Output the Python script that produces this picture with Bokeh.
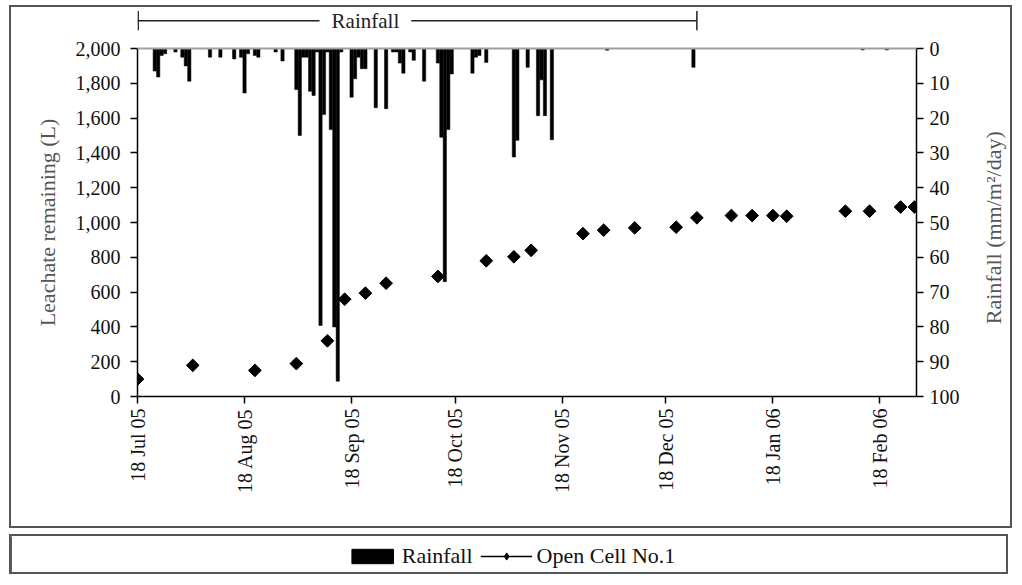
import math
import pandas as pd
from bokeh.plotting import figure
from bokeh.models import (Range1d, LinearAxis, FixedTicker, NumeralTickFormatter,
                          DatetimeTickFormatter, Span, Legend, LegendItem)
from bokeh.layouts import row
from bokeh.embed import file_html
from bokeh.resources import INLINE
from bokeh.core.properties import value

# ---------------- data ----------------
rain_dates = ["2005-07-23", "2005-07-24", "2005-07-25", "2005-07-26", "2005-07-29", "2005-07-31",
              "2005-08-01", "2005-08-02", "2005-08-08", "2005-08-11", "2005-08-15", "2005-08-17",
              "2005-08-18", "2005-08-19", "2005-08-21", "2005-08-22", "2005-08-27", "2005-08-29",
              "2005-09-02", "2005-09-03", "2005-09-04", "2005-09-05", "2005-09-06", "2005-09-07",
              "2005-09-08", "2005-09-09", "2005-09-10", "2005-09-11", "2005-09-12", "2005-09-13",
              "2005-09-14", "2005-09-15", "2005-09-18", "2005-09-19", "2005-09-20", "2005-09-21",
              "2005-09-22", "2005-09-25", "2005-09-28", "2005-09-30", "2005-10-01", "2005-10-02",
              "2005-10-03", "2005-10-05", "2005-10-06", "2005-10-09", "2005-10-13", "2005-10-14",
              "2005-10-15", "2005-10-16", "2005-10-17", "2005-10-23", "2005-10-24", "2005-10-25",
              "2005-10-27", "2005-11-04", "2005-11-05", "2005-11-08", "2005-11-11", "2005-11-12",
              "2005-11-13", "2005-11-15", "2005-12-01", "2005-12-26", "2006-02-13", "2006-02-20"]
rain_mm = [6.5, 8.2, 2.0, 1.5, 1.0, 2.5,
           5.0, 9.4, 2.5, 2.5, 3.0, 2.5,
           12.8, 1.5, 2.0, 2.5, 1.0, 3.6,
           11.8, 25.0, 2.5, 2.5, 12.3, 13.5,
           1.0, 79.6, 19.0, 1.0, 23.3, 80.0,
           95.6, 1.0, 14.0, 8.7, 2.5, 5.8,
           5.8, 17.0, 17.3, 1.0, 1.0, 4.2,
           7.1, 1.0, 3.4, 9.4, 4.2, 25.5,
           67.0, 23.3, 7.3, 7.1, 2.5, 2.0,
           4.0, 31.2, 26.4, 5.4, 19.3, 9.0,
           19.3, 26.2, 0.5, 5.4, 0.4, 0.4]

cell_dates = ["2005-07-18", "2005-08-03", "2005-08-21", "2005-09-02", "2005-09-11", "2005-09-16",
              "2005-09-22", "2005-09-28", "2005-10-13", "2005-10-27", "2005-11-04", "2005-11-09",
              "2005-11-24", "2005-11-30", "2005-12-09", "2005-12-21", "2005-12-27", "2006-01-06",
              "2006-01-12", "2006-01-18", "2006-01-22", "2006-02-08", "2006-02-15", "2006-02-24",
              "2006-02-28"]
cell_litres = [100, 179, 150, 189, 320, 559,
               594, 651, 690, 780, 803, 840,
               936, 956, 969, 973, 1027, 1040,
               1040, 1040, 1036, 1065, 1065, 1089,
               1089]

x_tick_dates = ["2005-07-18", "2005-08-18", "2005-09-18", "2005-10-18",
                "2005-11-18", "2005-12-18", "2006-01-18", "2006-02-18"]
left_ticks = [0, 200, 400, 600, 800, 1000, 1200, 1400, 1600, 1800, 2000]
right_ticks = [0, 10, 20, 30, 40, 50, 60, 70, 80, 90, 100]
bracket_dates = ["2005-07-18", "2005-12-27"]
bracket_label = "Rainfall"
rain_name = "Rainfall"
cell_name = "Open Cell No.1"
left_label = "Leachate remaining (L)"
right_label = "Rainfall (mm/m²/day)"

# ---------------- style / geometry ----------------
FONT = "Liberation Serif"
H1 = 519
H2 = 40
W_LL, W_MAIN, W_RL = 60, 905, 34          # left title strip, chart, right title strip
B_LEFT, B_RIGHT, B_TOP, B_BOTTOM = 66, 60, 3, 130
frame_h = 386          # frame height in px (extends above the 2,000 line for the bracket)
axis_h = 348           # px between 0 and 2,000
left_max, right_max = 2000, 100
y_end = left_max * frame_h / axis_h
rain_end = right_max - right_max * frame_h / axis_h
x_start = pd.Timestamp("2005-07-18")
x_end = x_start + pd.Timedelta(days=225.6)
DAY_MS = 86400000
BOX = {"border": "2px solid #555"}
TITLE_COLOR = "#555"

to_dt = lambda lst: [pd.Timestamp(d) for d in lst]
to_ms = lambda lst: [pd.Timestamp(d).value // 10**6 for d in lst]

y_left = Range1d(0, y_end)
y_rain = Range1d(start=right_max, end=rain_end)

p = figure(width=W_MAIN, height=H1, x_axis_type="datetime",
           x_range=Range1d(x_start, x_end), y_range=y_left,
           toolbar_location=None, output_backend="svg",
           min_border_left=B_LEFT, min_border_right=B_RIGHT,
           min_border_top=B_TOP, min_border_bottom=B_BOTTOM)
p.extra_y_ranges = {"rain": y_rain}
p.outline_line_color = None
p.xgrid.visible = False
p.ygrid.visible = False
p.background_fill_color = "white"
p.border_fill_color = "white"

# rainfall bars hanging from top
p.vbar(x=to_dt(rain_dates), width=DAY_MS * 0.95, top=0, bottom=rain_mm,
       y_range_name="rain", fill_color="black", line_color="black", line_width=0.5)

# leachate points
p.scatter(x=to_dt(cell_dates), y=cell_litres, marker="square", angle=math.pi / 4,
          size=9, fill_color="black", line_color="black")

# top gray baseline
p.add_layout(Span(location=left_max, dimension="width", line_color="#a0a0a0", line_width=2))

# rainfall bracket
b0, b1 = pd.Timestamp(bracket_dates[0]), pd.Timestamp(bracket_dates[1])
txt_center = b0 + pd.Timedelta(days=66)
gap = pd.Timedelta(days=13.3)
br_y = 2160
br_h = 55
p.segment(x0=[b0, txt_center + gap], y0=[br_y, br_y], x1=[txt_center - gap, b1], y1=[br_y, br_y],
          line_color="#222", line_width=1.5)
p.segment(x0=[b0 + pd.Timedelta(days=0.2), b1], y0=[br_y - br_h, br_y - br_h],
          x1=[b0 + pd.Timedelta(days=0.2), b1], y1=[br_y + br_h, br_y + br_h],
          line_color="#222", line_width=1.5)
p.text(x=[txt_center], y=[br_y], text=[bracket_label], text_font=value(FONT),
       text_font_size="21px", text_align="center", text_baseline="middle", text_color="#222")

def style_axis(ax):
    ax.axis_line_color = "black"
    ax.axis_line_width = 1.5
    ax.major_tick_line_color = "black"
    ax.major_tick_line_width = 1.5
    ax.major_tick_in = 0
    ax.major_tick_out = 7
    ax.minor_tick_line_color = None
    ax.major_label_text_font = FONT
    ax.major_label_text_font_size = "20px"
    ax.major_label_text_color = "#111"

ly = p.yaxis[0]
style_axis(ly)
ly.ticker = FixedTicker(ticks=left_ticks)
ly.formatter = NumeralTickFormatter(format="0,0")
ly.bounds = (0, left_max)
ly.major_label_standoff = 10

ry = LinearAxis(y_range_name="rain")
style_axis(ry)
ry.ticker = FixedTicker(ticks=right_ticks)
ry.bounds = (0, right_max)
ry.major_label_standoff = 6
p.add_layout(ry, "right")

bx = p.xaxis[0]
style_axis(bx)
bx.ticker = FixedTicker(ticks=to_ms(x_tick_dates))
fmt = "%d %b %y"
bx.formatter = DatetimeTickFormatter(days=fmt, months=fmt, years=fmt, hours=fmt,
                                     minutes=fmt, seconds=fmt, milliseconds=fmt,
                                     microseconds=fmt, minsec=fmt, hourmin=fmt)
bx.major_label_orientation = math.pi / 2
bx.major_label_standoff = 5

# axis titles, both reading bottom-to-top, in narrow strips beside the chart
def title_strip(width, y_range, y, text, x_frac):
    s = figure(width=width, height=H1, x_range=Range1d(0, 1), y_range=y_range,
               x_axis_type=None, y_axis_type=None, toolbar_location=None,
               output_backend="svg", min_border_left=0, min_border_right=0,
               min_border_top=B_TOP, min_border_bottom=B_BOTTOM)
    s.outline_line_color = None
    s.text(x=[x_frac], y=[y], text=[text], angle=math.pi / 2, text_font=value(FONT),
           text_font_size="22px", text_align="center", text_baseline="middle",
           text_color=TITLE_COLOR)
    return s

p_ll = title_strip(W_LL, y_left, left_max / 2, left_label, 0.6)
p_rl = title_strip(W_RL, y_rain, 51.5, right_label, 0.5)

chart = row(p_ll, p, p_rl, styles=BOX, margin=(5, 0, 0, 9))

# ---------------- legend box ----------------
p2 = figure(width=W_LL + W_MAIN + W_RL, height=H2, x_range=Range1d(0, 1), y_range=Range1d(0, 1),
            x_axis_type=None, y_axis_type=None, toolbar_location=None,
            output_backend="svg", min_border=0, margin=(6, 0, 0, 9))
p2.outline_line_color = None
p2.styles = BOX
r_bar = p2.vbar(x=[-5], top=[1], width=0.1, fill_color="black", line_color="black")
r_line = p2.line(x=[-5, -4], y=[0.5, 0.5], line_color="black", line_width=1.5)
r_pt = p2.scatter(x=[-5], y=[0.5], marker="diamond", size=13,
                  fill_color="black", line_color="black")
legend = Legend(items=[LegendItem(label=rain_name, renderers=[r_bar]),
                       LegendItem(label=cell_name, renderers=[r_line, r_pt])],
                location="center", orientation="horizontal",
                label_text_font=FONT, label_text_font_size="22px", label_text_color="#111",
                glyph_width=52, glyph_height=18, spacing=8, label_standoff=4,
                border_line_color=None, background_fill_alpha=0, padding=0, margin=0)
p2.add_layout(legend)

open("out.html", "w").write(file_html([chart, p2], INLINE))
